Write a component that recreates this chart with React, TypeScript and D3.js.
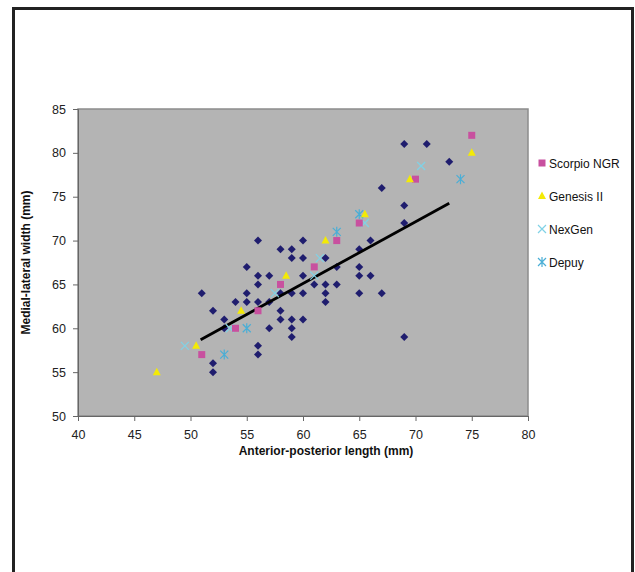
import React, { useEffect, useRef } from "react";
import * as d3 from "d3";

// patient measurements (no legend entry), [AP length, ML width]
const patients: [number, number][] = [
  [51, 64], [52, 62], [54, 63], [53, 61], [53, 60], [52, 56], [52, 55],
  [56, 70], [58, 69], [59, 69], [60, 70], [59, 68], [60, 68], [62, 68],
  [55, 67], [63, 67], [56, 66], [57, 66], [60, 66], [56, 65], [61, 65],
  [62, 65], [63, 65], [55, 64], [58, 64], [59, 64], [60, 64], [62, 64],
  [55, 63], [56, 63], [57, 63], [62, 63], [58, 62], [58, 61], [59, 61],
  [60, 61], [57, 60], [59, 60], [59, 59], [56, 58], [56, 57],
  [67, 76], [69, 74], [69, 72], [66, 70], [65, 69], [65, 67], [65, 66],
  [66, 66], [65, 64], [67, 64], [69, 81], [71, 81], [73, 79], [69, 59],
];
const scorpio: [number, number][] = [
  [51, 57], [54, 60], [56, 62], [58, 65], [61, 67], [63, 70], [65, 72], [70, 77], [75, 82],
];
const genesis: [number, number][] = [
  [47, 55], [50.5, 58], [54.5, 62], [58.5, 66], [62, 70], [65.5, 73], [69.5, 77], [75, 80],
];
const nexgen: [number, number][] = [
  [49.5, 58], [53.5, 60], [57.5, 64], [61, 66], [61.5, 68], [65.5, 72], [70.5, 78.5],
];
const depuy: [number, number][] = [
  [53, 57], [55, 60], [63, 71], [65, 73], [74, 77],
];
const trend: [number, number][] = [[50.9, 58.7], [73, 74.25]];

const xTicks = [40, 45, 50, 55, 60, 65, 70, 75, 80];
const yTicks = [50, 55, 60, 65, 70, 75, 80, 85];
const legendNames = ["Scorpio NGR", "Genesis II", "NexGen", "Depuy"];

const colors = {
  patient: "#1f1d6e",
  scorpio: "#c8509f",
  genesis: "#f3ea06",
  nexgen: "#80d2e6",
  depuy: "#4aaed6",
};

function drawMarker(g: any, kind: string, x: number, y: number) {
  if (kind === "patient") {
    g.append("path").attr("d", `M${x},${y - 4}L${x + 4},${y}L${x},${y + 4}L${x - 4},${y}Z`).attr("fill", colors.patient);
  } else if (kind === "scorpio") {
    g.append("rect").attr("x", x - 3.5).attr("y", y - 3.5).attr("width", 7).attr("height", 7).attr("fill", colors.scorpio);
  } else if (kind === "genesis") {
    g.append("path").attr("d", `M${x},${y - 4.5}L${x + 4},${y + 3}L${x - 4},${y + 3}Z`).attr("fill", colors.genesis);
  } else if (kind === "nexgen") {
    g.append("path").attr("d", `M${x - 4},${y - 4}L${x + 4},${y + 4}M${x - 4},${y + 4}L${x + 4},${y - 4}`)
      .attr("stroke", colors.nexgen).attr("stroke-width", 1.2).attr("fill", "none");
  } else {
    g.append("path").attr("d", `M${x - 4},${y - 4}L${x + 4},${y + 4}M${x - 4},${y + 4}L${x + 4},${y - 4}M${x},${y - 5}L${x},${y + 5}`)
      .attr("stroke", colors.depuy).attr("stroke-width", 1.2).attr("fill", "none");
  }
}

export default function App() {
  const ref = useRef<SVGSVGElement>(null);

  useEffect(() => {
    const svg = d3.select(ref.current);
    svg.selectAll("*").remove();

    const left = 78, right = 528, top = 109, bottom = 416;
    const x = d3.scaleLinear().domain([40, 80]).range([left, right]);
    const y = d3.scaleLinear().domain([50, 85]).range([bottom, top]);
    const font = "'Liberation Sans', Arial, sans-serif";

    svg.append("rect").attr("width", 635).attr("height", 572).attr("fill", "#fff");
    // outer frame
    svg.append("rect").attr("x", 13.5).attr("y", 8.5).attr("width", 619).attr("height", 600)
      .attr("fill", "none").attr("stroke", "#222").attr("stroke-width", 3);

    // plot area
    svg.append("rect").attr("x", left).attr("y", top).attr("width", right - left).attr("height", bottom - top)
      .attr("fill", "#b4b4b4").attr("stroke", "#8c8c8c").attr("stroke-width", 1.5);

    // axes
    const ax = svg.append("g").attr("transform", `translate(0,${bottom})`)
      .call(d3.axisBottom(x).tickValues(xTicks).tickSize(5).tickPadding(9));
    const ay = svg.append("g").attr("transform", `translate(${left},0)`)
      .call(d3.axisLeft(y).tickValues(yTicks).tickSize(5).tickPadding(7));
    [ax, ay].forEach((a) => {
      a.select(".domain").attr("stroke", "#666");
      a.selectAll(".tick line").attr("stroke", "#666");
      a.selectAll("text").attr("font-family", font).attr("font-size", 12.5).attr("fill", "#222");
    });

    const g = svg.append("g");
    patients.forEach((d) => drawMarker(g, "patient", x(d[0]), y(d[1])));

    // trend line
    g.append("path")
      .attr("d", d3.line()(trend.map((d) => [x(d[0]), y(d[1])]) as [number, number][]))
      .attr("stroke", "#000").attr("stroke-width", 2.8).attr("fill", "none");

    nexgen.forEach((d) => drawMarker(g, "nexgen", x(d[0]), y(d[1])));
    depuy.forEach((d) => drawMarker(g, "depuy", x(d[0]), y(d[1])));
    scorpio.forEach((d) => drawMarker(g, "scorpio", x(d[0]), y(d[1])));
    genesis.forEach((d) => drawMarker(g, "genesis", x(d[0]), y(d[1])));

    // axis titles
    svg.append("text").attr("x", 326).attr("y", 455).attr("text-anchor", "middle")
      .attr("font-family", font).attr("font-size", 12).attr("font-weight", "bold").attr("fill", "#111")
      .text("Anterior-posterior length (mm)");
    svg.append("text").attr("transform", `translate(30,${(top + bottom) / 2}) rotate(-90)`)
      .attr("text-anchor", "middle")
      .attr("font-family", font).attr("font-size", 12).attr("font-weight", "bold").attr("fill", "#111")
      .text("Medial-lateral width (mm)");

    // legend
    const kinds = ["scorpio", "genesis", "nexgen", "depuy"];
    const lg = svg.append("g");
    legendNames.forEach((name, i) => {
      const ly = 163 + i * 33;
      drawMarker(lg, kinds[i], 542, ly);
      lg.append("text").attr("x", 549).attr("y", ly + 4.5)
        .attr("font-family", font).attr("font-size", 12).attr("fill", "#111").text(name);
    });
  }, []);

  return (
    <svg ref={ref} width={635} height={572} style={{ position: "absolute", left: 0, top: 0 }} />
  );
}
